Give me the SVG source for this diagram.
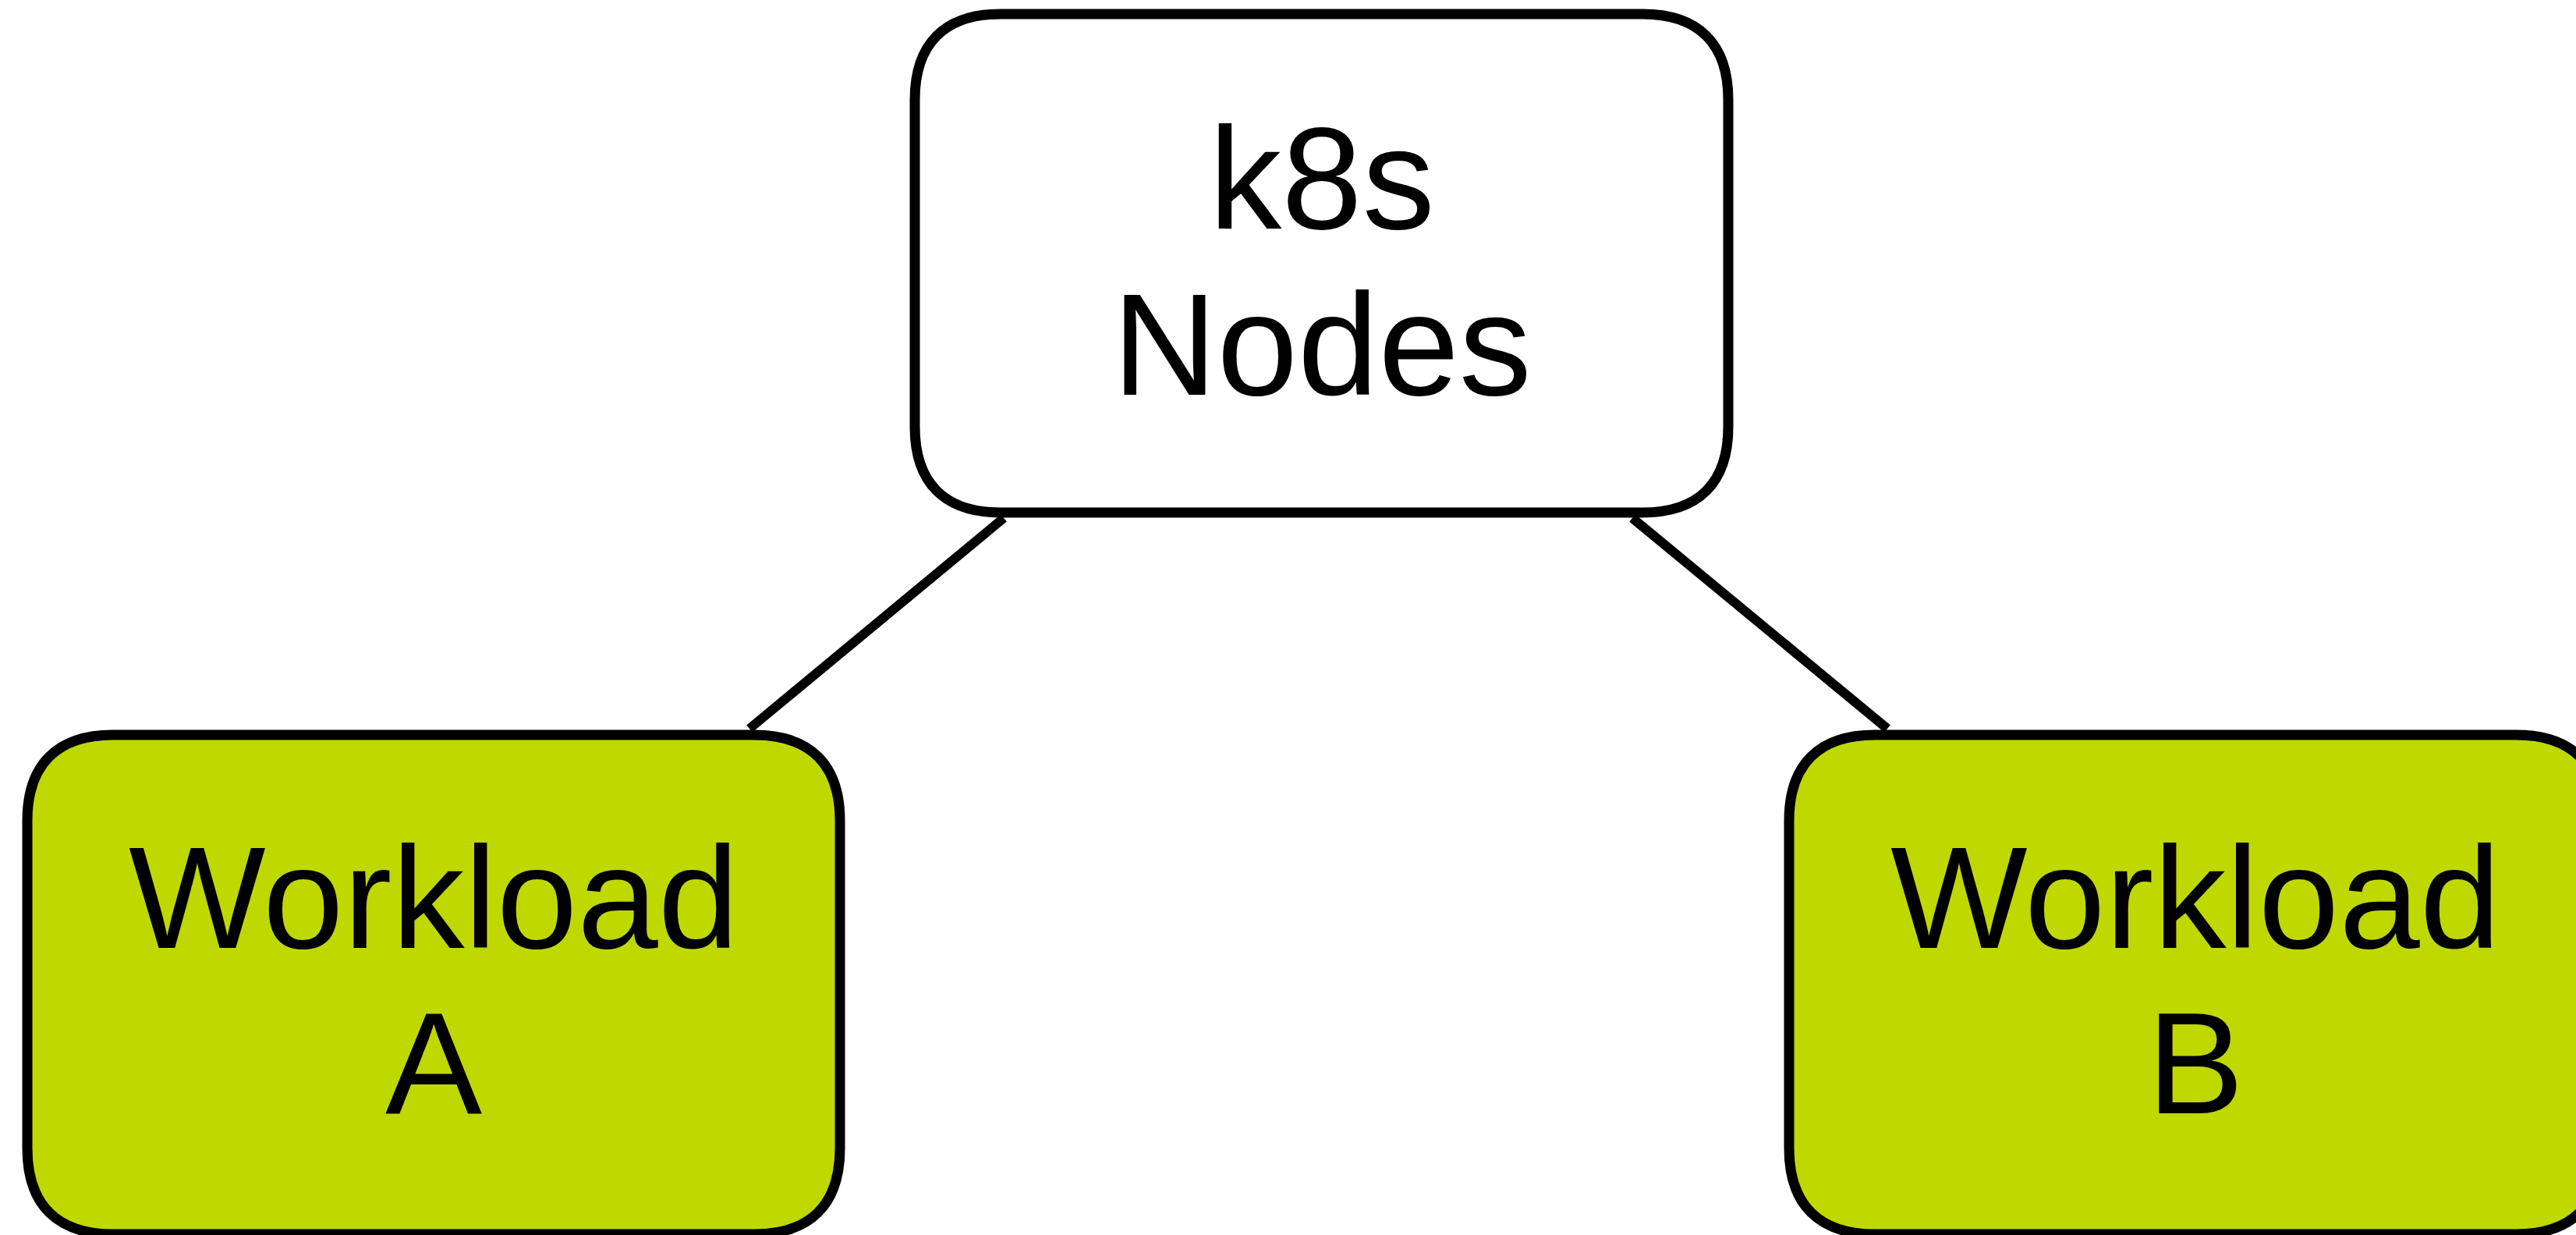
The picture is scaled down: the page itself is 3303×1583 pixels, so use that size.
<svg xmlns="http://www.w3.org/2000/svg" width="3303" height="1583" viewBox="0 0 3303 1583">
<style>
.box{stroke:#000;stroke-width:13;}
.white{fill:#fff;}
.green{fill:#bfd900;}
.lbl{font-family:"Liberation Sans",Arial,sans-serif;font-size:186px;fill:#000;text-anchor:middle;}
.conn{stroke:#000;stroke-width:12;fill:none;}
</style>
<rect width="3303" height="1583" fill="#fff"/>
<g id="connectors">
<line class="conn" x1="1287" y1="664" x2="961" y2="934"/>
<line class="conn" x1="2093" y1="664" x2="2420" y2="934"/>
</g>
<g id="node-k8s">
<path class="box white" d="M1283,18 H2106 C2178,18 2216,56 2216,128 V547 C2216,619 2178,657 2106,657 H1283 C1211,657 1173,619 1173,547 V128 C1173,56 1211,18 1283,18 Z"/>
<text class="lbl" x="1695" y="293">k8s</text>
<text class="lbl" x="1695" y="506">Nodes</text>
</g>
<g id="node-workload-a">
<path class="box green" d="M145,942 H967 C1039,942 1077,980 1077,1052 V1472 C1077,1544 1039,1582 967,1582 H145 C73,1582 35,1544 35,1472 V1052 C35,980 73,942 145,942 Z"/>
<text class="lbl" x="556" y="1215">Workload</text>
<text class="lbl" x="556" y="1427">A</text>
</g>
<g id="node-workload-b">
<path class="box green" d="M2404,942 H3226 C3298,942 3336,980 3336,1052 V1472 C3336,1544 3298,1582 3226,1582 H2404 C2332,1582 2294,1544 2294,1472 V1052 C2294,980 2332,942 2404,942 Z"/>
<text class="lbl" x="2815" y="1215">Workload</text>
<text class="lbl" x="2815" y="1427">B</text>
</g>
</svg>
